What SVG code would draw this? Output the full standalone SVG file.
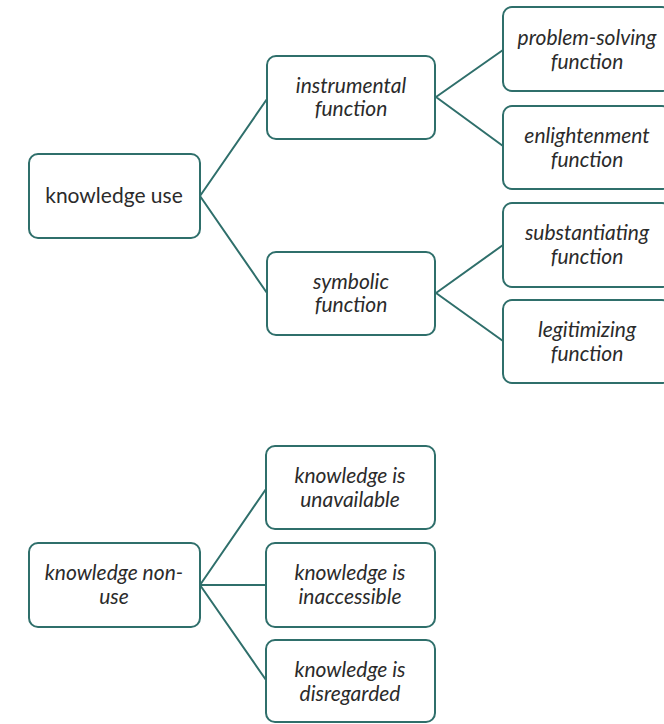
<svg xmlns="http://www.w3.org/2000/svg" width="664" height="724" viewBox="0 0 664 724">
<style>
.box{fill:#fff;stroke:#2f6f6b;stroke-width:2}
.ln{stroke:#2f6f6b;stroke-width:2;fill:none}
text{font-family:Lato,"Open Sans","Liberation Sans",sans-serif;font-size:21px;fill:#2b2b2b;text-anchor:middle}
.i{font-style:italic}
</style>
<rect width="664" height="724" fill="#fff"/>
<g id="connectors">
<path class="ln" d="M200,196 L267,99 M200,196 L267,293"/>
<path class="ln" d="M436,97 L503,50 M436,97 L503,146"/>
<path class="ln" d="M436,293 L503,245 M436,293 L503,341"/>
<path class="ln" d="M200,585 L266,489 M200,585 L266,585 M200,585 L266,680"/>
</g>
<g id="knowledge-use"><rect class="box" x="29" y="154" width="171" height="84" rx="9"/><text x="114" y="203">knowledge use</text></g>
<g id="instrumental"><rect class="box" x="267" y="56" width="168" height="83" rx="9"/><text class="i" x="351" y="93">instrumental</text><text class="i" x="351" y="116">function</text></g>
<g id="symbolic"><rect class="box" x="267" y="252" width="168" height="83" rx="9"/><text class="i" x="351" y="289">symbolic</text><text class="i" x="351" y="312">function</text></g>
<g id="problem-solving"><rect class="box" x="503" y="7" width="168" height="84" rx="9"/><text class="i" x="587" y="45">problem-solving</text><text class="i" x="587" y="69">function</text></g>
<g id="enlightenment"><rect class="box" x="503" y="106" width="168" height="83" rx="9"/><text class="i" x="587" y="143">enlightenment</text><text class="i" x="587" y="167">function</text></g>
<g id="substantiating"><rect class="box" x="503" y="203" width="168" height="84" rx="9"/><text class="i" x="587" y="240">substantiating</text><text class="i" x="587" y="264">function</text></g>
<g id="legitimizing"><rect class="box" x="503" y="300" width="168" height="83" rx="9"/><text class="i" x="587" y="337">legitimizing</text><text class="i" x="587" y="361">function</text></g>
<g id="knowledge-non-use"><rect class="box" x="29" y="543" width="171" height="84" rx="9"/><text class="i" x="114" y="580">knowledge non-</text><text class="i" x="114" y="604">use</text></g>
<g id="unavailable"><rect class="box" x="266" y="446" width="169" height="83" rx="9"/><text class="i" x="350" y="483">knowledge is</text><text class="i" x="350" y="507">unavailable</text></g>
<g id="inaccessible"><rect class="box" x="266" y="543" width="169" height="84" rx="9"/><text class="i" x="350" y="580">knowledge is</text><text class="i" x="350" y="604">inaccessible</text></g>
<g id="disregarded"><rect class="box" x="266" y="640" width="169" height="82" rx="9"/><text class="i" x="350" y="677">knowledge is</text><text class="i" x="350" y="701">disregarded</text></g>
</svg>
